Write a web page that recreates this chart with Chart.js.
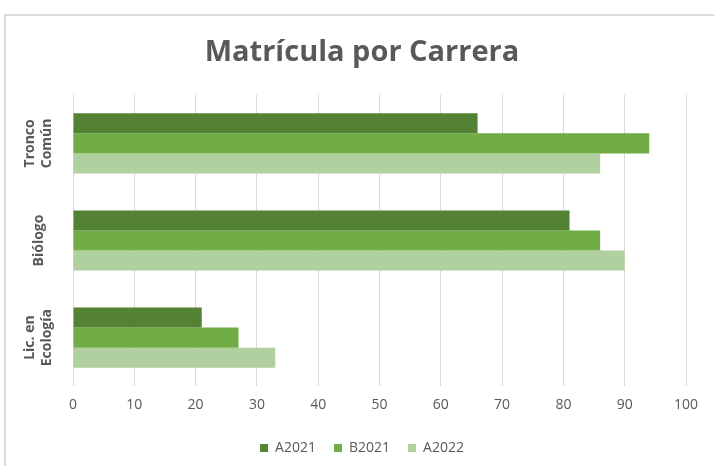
<!DOCTYPE html>
<html>
<head>
<meta charset="utf-8">
<script src="https://cdn.jsdelivr.net/npm/chart.js@4.4.0/dist/chart.umd.min.js"></script>
<style>
  body { margin: 0; background: #fff; overflow: hidden; }
  #wrap { position: relative; width: 714px; height: 466px; }
  #frame { position: absolute; left: 4px; top: 14px; width: 730px; height: 480px; border: 2px solid #d9d9d9; box-sizing: border-box; }
  canvas { position: absolute; left: 0; top: 0; }
</style>
</head>
<body>
<div id="wrap">
  <div id="frame"></div>
  <canvas id="chart" width="714" height="466"></canvas>
</div>
<script>
// --- Data ---
const categories = [['Tronco', 'Común'], 'Biólogo', ['Lic. en', 'Ecología']];
const seriesNames = ['A2021', 'B2021', 'A2022'];
const a2021 = [66, 81, 21];
const b2021 = [94, 86, 27];
const a2022 = [86, 90, 33];
const xTicks = [0, 10, 20, 30, 40, 50, 60, 70, 80, 90, 100];

const colors = ['#548235', '#70ad47', '#b0d0a0'];
const textColor = '#595959';
const fontFamily = '"Open Sans", sans-serif';

// draws the rotated category labels on the left
const rotatedYLabels = {
  id: 'rotatedYLabels',
  afterDraw(chart) {
    const ctx = chart.ctx;
    const y = chart.scales.y;
    ctx.save();
    ctx.fillStyle = textColor;
    ctx.font = 'bold 14px ' + fontFamily;
    ctx.textAlign = 'center';
    ctx.textBaseline = 'middle';
    categories.forEach((label, i) => {
      const lines = Array.isArray(label) ? label : [label];
      const cy = y.getPixelForValue(i);
      ctx.save();
      ctx.translate(39, cy);
      ctx.rotate(-Math.PI / 2);
      const lh = 17;
      lines.forEach((line, j) => {
        ctx.fillText(line, 0, (j - (lines.length - 1) / 2) * lh);
      });
      ctx.restore();
    });
    ctx.restore();
  }
};

const ctx = document.getElementById('chart').getContext('2d');
new Chart(ctx, {
  type: 'bar',
  data: {
    labels: categories,
    datasets: [a2021, b2021, a2022].map((values, i) => ({
      label: seriesNames[i],
      data: values,
      backgroundColor: colors[i],
      borderWidth: 0,
      barPercentage: 1.0,
      categoryPercentage: 0.62
    }))
  },
  options: {
    indexAxis: 'y',
    responsive: false,
    animation: false,
    layout: { padding: { left: 38, right: 28, top: 35, bottom: 1 } },
    scales: {
      x: {
        min: 0,
        max: 100,
        afterBuildTicks: (scale) => { scale.ticks = xTicks.map(v => ({ value: v })); },
        grid: { color: '#d9d9d9', drawTicks: false },
        border: { display: false },
        ticks: { color: textColor, font: { family: fontFamily, size: 14 }, padding: 10 }
      },
      y: {
        grid: { display: false },
        border: { display: false },
        ticks: { display: false },
        afterFit: (scale) => { scale.width = 35; }
      }
    },
    plugins: {
      title: {
        display: true,
        text: 'Matrícula por Carrera',
        color: textColor,
        font: { family: fontFamily, size: 29, weight: 'bold' },
        padding: { top: 0, bottom: 25 }
      },
      legend: {
        position: 'bottom',
        labels: {
          color: textColor,
          font: { family: fontFamily, size: 14 },
          boxWidth: 8,
          boxHeight: 8,
          padding: 18
        }
      },
      tooltip: { enabled: false }
    }
  },
  plugins: [rotatedYLabels]
});
</script>
</body>
</html>
